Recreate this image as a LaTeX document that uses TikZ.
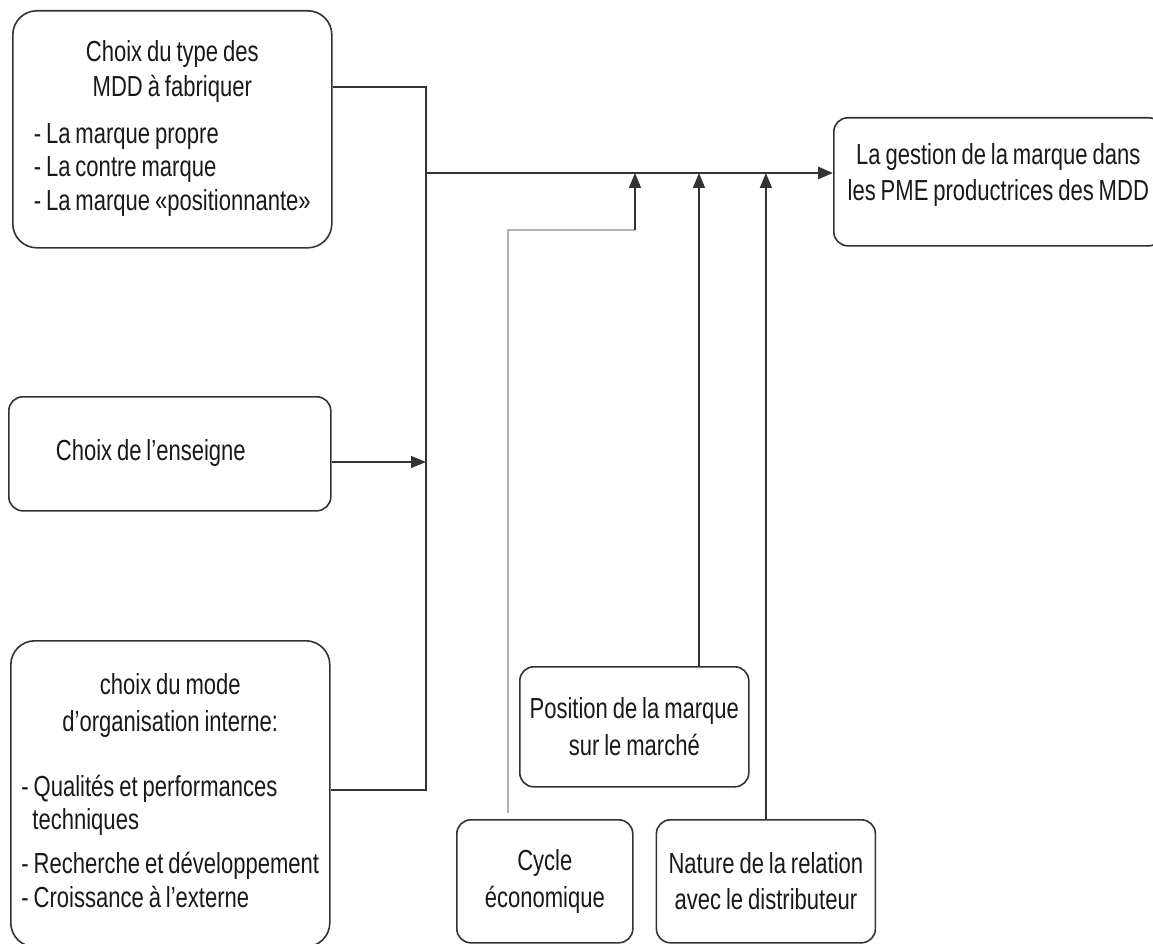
\documentclass[tikz,border=0pt]{standalone}
\usepackage{fontspec}
\setmainfont[FakeStretch=0.76, WordSpace=0.8]{Liberation Sans}
\usetikzlibrary{positioning}
\usetikzlibrary{arrows.meta}
\newcommand{\centred}[1]{\multicolumn{1}{@{}c@{}}{#1}}

\begin{document}
\begin{tikzpicture}
    [x=1pt, y=-1pt,
     box/.style={draw=black!80, line width=1.6pt, rounded corners=24pt, inner sep=0pt,
       anchor=north west, text=black!90, font=\fontsize{29}{33.5}\selectfont},
     smallbox/.style={box, rounded corners=14pt, align=center},
     link/.style={draw=black!80, line width=1.4pt},
     arr/.style={link, -{Triangle[length=15pt, width=12pt]}}]
    \clip (0,0) rectangle (1153,944);

    \node (mdd) [box, minimum width=319pt, minimum height=237pt] at (12,10)
      {\begin{tabular}{@{}l@{}}
         \centred{Choix du type des}\\[1.5pt]
         \centred{MDD à fabriquer}\\[13.5pt]
         - La marque propre\\
         - La contre marque\\
         - La marque «positionnante»
       \end{tabular}};
    \node (enseigne) [smallbox, minimum width=322pt, minimum height=114pt] at (8,396)
      {\begin{tabular}{@{}l@{\hspace{38pt}}}
         Choix de l'enseigne
       \end{tabular}};
    \node (orga) [box, minimum width=319pt, minimum height=306pt] at (10,640)
      {\begin{tabular}{@{}l@{}}
         \centred{choix du mode}\\[3.5pt]
         \centred{d'organisation interne:}\\[31.5pt]
         - Qualités et performances\\
         \hspace*{11pt}techniques\\[10.5pt]
         - Recherche et développement\\
         - Croissance à l'externe
       \end{tabular}};
    \node (gestion) [smallbox, minimum width=329pt, minimum height=128pt] at (833,117)
      {\begin{tabular}{@{}c@{}}
         La gestion de la marque dans\\[3pt]
         les PME productrices des MDD\\[12pt]
       \end{tabular}};
    \node (position) [smallbox, minimum width=229pt, minimum height=120pt] at (519,666)
      {Position de la marque\\[3pt]sur le marché};
    \node (cycle) [smallbox, minimum width=176pt, minimum height=123pt] at (456,819)
      {Cycle\\[3pt]économique};
    \node (nature) [smallbox, minimum width=219pt, minimum height=123pt, right=22pt of cycle]
      {Nature de la relation\\[3pt]avec le distributeur};

    \coordinate (jtop) at (426,87);
    \coordinate (jbot) at (426,790);
    \coordinate (jmain) at (426,173);
    \coordinate (jens) at (426,462);
    \coordinate (cturn) at (508,230);
    \coordinate (cjoin) at (635,230);
    \coordinate (pjoin) at (699,173);

    \draw[link] (mdd.east |- jtop) -- (jtop) -- (jbot) -- (orga.east |- jbot);
    \draw[arr] (enseigne.east |- jens) -- (jens);
    \draw[arr, line width=2.8pt] (jmain) -- (gestion.west |- jmain);
    \draw[link, draw=black!30, shorten <=6pt] (cycle.north -| cturn) -- (cturn) -- (cjoin);
    \draw[arr] (cjoin) -- (cjoin |- jmain);
    \draw[arr] (position.north -| pjoin) -- (pjoin);
    \draw[arr] (nature.north) -- (nature.north |- jmain);

  \end{tikzpicture}
\end{document}
